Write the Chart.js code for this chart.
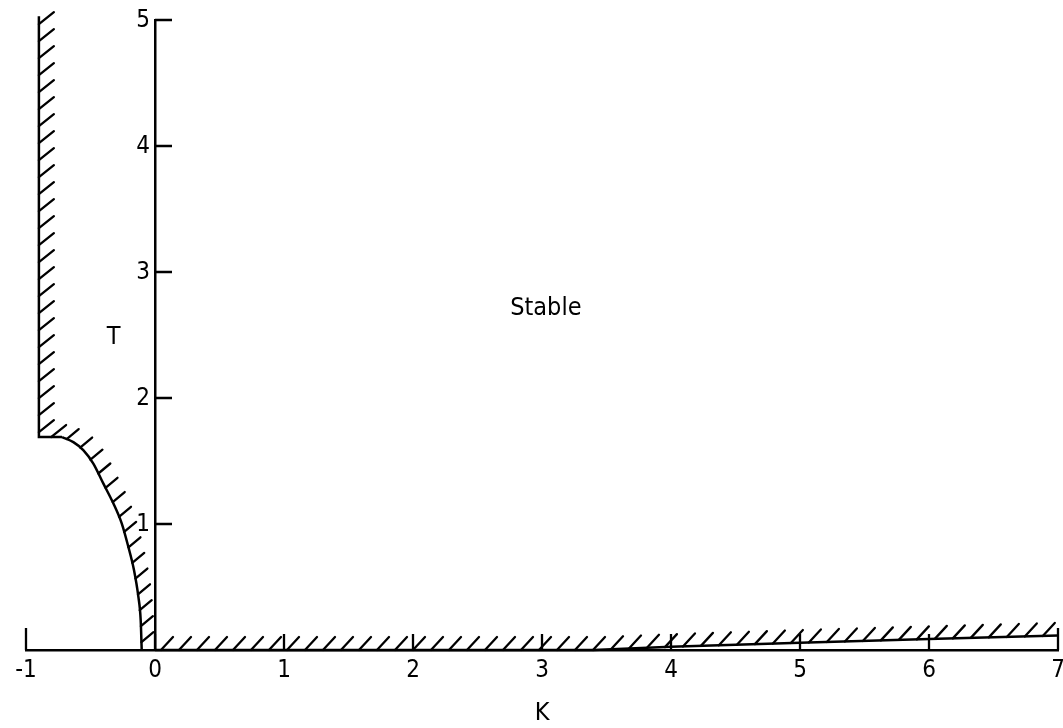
<!DOCTYPE html>
<html>
<head>
<meta charset="utf-8">
<script src="https://cdn.jsdelivr.net/npm/chart.js@4.4.1/dist/chart.umd.min.js"></script>
<style>
  html, body { margin: 0; padding: 0; background: #fff; }
  canvas { display: block; }
</style>
</head>
<body>
<canvas id="stabilityChart" width="1063" height="728"></canvas>
<script>
const FONT = '"DejaVu Sans Condensed", "DejaVu Sans", sans-serif';
const INK = '#000';

const xTicks = [-1, 0, 1, 2, 3, 4, 5, 6, 7];
const yTicks = [1, 2, 3, 4, 5];

// left wall: vertical line at K = -0.9 and the short flat step at T = 1.69
const wallK = [-0.9, -0.9, -0.72];
const wallT = [5.03, 1.69, 1.69];

// the curve from the step down to the K axis
const curveK = [-0.72, -0.633, -0.556, -0.478, -0.40, -0.323, -0.258, -0.207, -0.163, -0.129, -0.111, -0.103];
const curveT = [1.69, 1.65, 1.587, 1.48, 1.32, 1.164, 1.005, 0.82, 0.635, 0.423, 0.238, 0];

// lower boundary along the K axis, lifting off it past K = 3.5
const lowK = [0, 3.4, 4, 5, 6, 7];
const lowT = [0, 0, 0.025, 0.058, 0.087, 0.115];

const toPoints = (xs, ys) => xs.map((x, i) => ({ x, y: ys[i] }));

// short "/" strokes walked along each hatched line
const hatchPlugin = {
    id: 'hatch',
    afterDatasetsDraw(chart) {
        const ctx = chart.ctx;
        chart.data.datasets.forEach((ds, i) => {
            if (!ds.hatch) return;
            const pts = chart.getDatasetMeta(i).data.map(p => [p.x, p.y]);
            const { dx, dy, step, start } = ds.hatch;
            ctx.save();
            ctx.strokeStyle = INK;
            ctx.lineWidth = 2.3;
            ctx.lineCap = 'round';
            ctx.beginPath();
            let next = start, run = 0;
            for (let k = 1; k < pts.length; k++) {
                const [x0, y0] = pts[k - 1], [x1, y1] = pts[k];
                const len = Math.hypot(x1 - x0, y1 - y0);
                while (len > 0 && next <= run + len) {
                    const t = (next - run) / len;
                    const px = x0 + t * (x1 - x0), py = y0 + t * (y1 - y0);
                    ctx.moveTo(px, py);
                    ctx.lineTo(px + dx, py + dy);
                    next += step;
                }
                run += len;
            }
            ctx.stroke();
            ctx.restore();
        });
    }
};

// tick marks drawn inward, the T labels left of the T axis, and the in-plot labels
const marksPlugin = {
    id: 'marks',
    afterDraw(chart) {
        const { ctx, scales: { x, y } } = chart;
        const y0 = y.getPixelForValue(0), x0 = x.getPixelForValue(0);
        ctx.save();
        ctx.strokeStyle = INK;
        ctx.lineWidth = 2.3;
        ctx.beginPath();
        xTicks.forEach(v => {
            const px = x.getPixelForValue(v);
            const len = (v === xTicks[0] || v === xTicks[xTicks.length - 1]) ? 22 : 16;
            ctx.moveTo(px, y0);
            ctx.lineTo(px, y0 - len);
        });
        yTicks.forEach(v => {
            const py = y.getPixelForValue(v);
            ctx.moveTo(x0, py);
            ctx.lineTo(x0 + 17, py);
        });
        ctx.stroke();

        ctx.fillStyle = INK;
        ctx.font = '24px ' + FONT;
        ctx.textAlign = 'right';
        ctx.textBaseline = 'middle';
        yTicks.forEach(v => ctx.fillText(String(v), x0 - 5, y.getPixelForValue(v) + 1));

        ctx.textAlign = 'center';
        ctx.font = '25px ' + FONT;
        ctx.fillText('T', x.getPixelForValue(-0.32), y.getPixelForValue(2.48));
        ctx.fillText('Stable', x.getPixelForValue(3.03), y.getPixelForValue(2.71));
        ctx.restore();
    }
};

const lineStyle = {
    showLine: true,
    borderColor: INK,
    borderWidth: 2.5,
    pointRadius: 0,
    clip: false
};

new Chart(document.getElementById('stabilityChart'), {
    type: 'scatter',
    data: {
        datasets: [
            {
                ...lineStyle,
                label: 'left wall',
                data: toPoints(wallK, wallT),
                tension: 0,
                hatch: { dx: 15, dy: -12, step: 17, start: 8 }
            },
            {
                ...lineStyle,
                label: 'curve',
                data: toPoints(curveK, curveT),
                cubicInterpolationMode: 'monotone',
                hatch: { dx: 12, dy: -10, step: 16, start: 5 }
            },
            {
                ...lineStyle,
                label: 'lower boundary',
                data: toPoints(lowK, lowT),
                tension: 0,
                hatch: { dx: 12, dy: -13, step: 18, start: 6 }
            }
        ]
    },
    options: {
        responsive: false,
        animation: false,
        layout: { padding: { left: 26, right: 5, top: 20, bottom: 0 } },
        plugins: { legend: { display: false }, tooltip: { enabled: false } },
        scales: {
            x: {
                type: 'linear',
                min: -1, max: 7,
                afterBuildTicks: axis => { axis.ticks = xTicks.map(v => ({ value: v })); },
                afterFit: axis => {
                    axis.height = 78;
                    axis.paddingLeft = 0;
                    axis.paddingRight = 0;
                },
                grid: { display: false },
                border: { display: true, color: INK, width: 2.5 },
                ticks: { padding: 1, color: INK, maxRotation: 0, font: { family: FONT, size: 24, lineHeight: 1 } },
                title: { display: true, text: 'K', color: INK, padding: { top: 10, bottom: 2 }, font: { family: FONT, size: 25, lineHeight: 1 } }
            },
            y: {
                type: 'linear',
                min: 0, max: 5,
                position: { x: 0 },
                afterBuildTicks: axis => { axis.ticks = yTicks.map(v => ({ value: v })); },
                grid: { display: false },
                border: { display: true, color: INK, width: 2.5 },
                ticks: { display: false }
            }
        }
    },
    plugins: [hatchPlugin, marksPlugin]
});
</script>
</body>
</html>
